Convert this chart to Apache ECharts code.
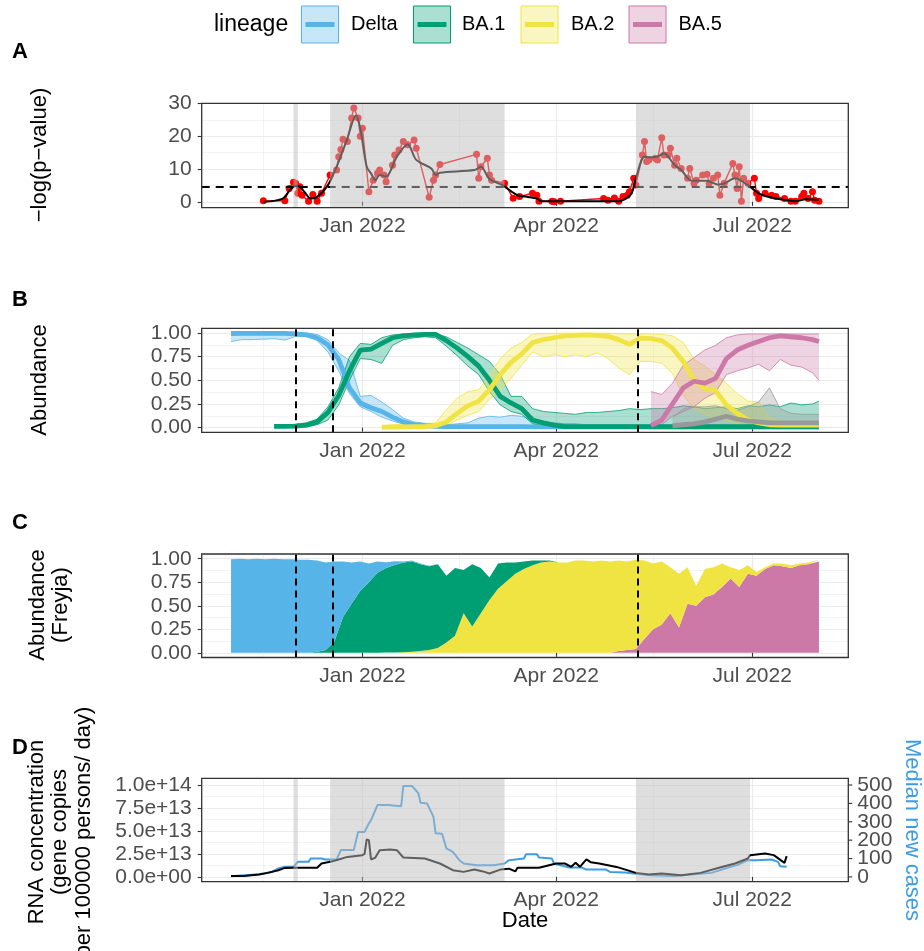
<!DOCTYPE html>
<html><head><meta charset="utf-8">
<script src="https://cdn.jsdelivr.net/npm/echarts@6/dist/echarts.min.js"></script>
<style>html,body{margin:0;padding:0;background:#fff}#c{width:924px;height:951px}</style>
</head><body><div id="c"></div>
<script>
// ---------------- DATA ----------------
// x axis ticks
const xMajorDates = ['2022-01-01','2022-04-01','2022-07-01'];
const xMajorLabels = ['Jan 2022','Apr 2022','Jul 2022'];
const xMinorDates = ['2021-11-16','2022-02-15','2022-05-16'];

// shaded periods (panels A and D) and dashed lines (panels B and C)
const shadeStarts = ['2021-11-30','2021-12-17','2022-05-08'];
const shadeEnds   = ['2021-12-02','2022-03-08','2022-06-30'];
const vLineDates = ['2021-12-01','2021-12-18','2022-05-09'];
const pThreshold = 4.6;

// Panel A: -log(p-value)
const pvalDates = [
'2021-11-16','2021-11-26','2021-11-28','2021-11-30','2021-12-01','2021-12-02','2021-12-03','2021-12-04','2021-12-07','2021-12-09',
'2021-12-11','2021-12-13','2021-12-17','2021-12-20','2021-12-21','2021-12-22','2021-12-23','2021-12-25','2021-12-27','2021-12-28',
'2021-12-30','2021-12-31','2022-01-01','2022-01-04','2022-01-06','2022-01-08','2022-01-09','2022-01-11','2022-01-12','2022-01-15',
'2022-01-16','2022-01-18','2022-01-20','2022-01-22','2022-01-25','2022-01-26','2022-02-01','2022-02-03','2022-02-04','2022-02-06',
'2022-02-23','2022-02-24','2022-02-25','2022-02-28','2022-03-01','2022-03-02','2022-03-08','2022-03-12','2022-03-15','2022-03-21',
'2022-03-23','2022-03-24','2022-03-30','2022-03-31','2022-04-03','2022-04-23','2022-04-25','2022-04-28','2022-04-30','2022-05-02',
'2022-05-04','2022-05-05','2022-05-07','2022-05-08','2022-05-11','2022-05-12','2022-05-13','2022-05-14','2022-05-17','2022-05-18',
'2022-05-20','2022-05-21','2022-05-23','2022-05-24','2022-05-26','2022-05-27','2022-05-29','2022-06-01','2022-06-02','2022-06-04',
'2022-06-05','2022-06-08','2022-06-10','2022-06-11','2022-06-13','2022-06-15','2022-06-16','2022-06-18','2022-06-22','2022-06-23',
'2022-06-24','2022-06-25','2022-06-26','2022-06-27','2022-06-29','2022-07-02','2022-07-03','2022-07-04','2022-07-07','2022-07-10',
'2022-07-12','2022-07-16','2022-07-19','2022-07-21','2022-07-24','2022-07-25','2022-07-27','2022-07-29','2022-07-30','2022-08-01'];
const pvalValues = [
0.3,0.3,4.1,6.0,5.7,2.6,4.6,2.0,0.2,2.2,
0.2,2.6,8.2,9.7,13.8,16.0,19.1,18.4,25.6,28.7,
25.6,20.0,22.5,3.1,6.6,8.7,9.7,8.2,6.1,11.2,
14.3,15.8,18.4,17.4,18.9,16.4,1.4,6.6,8.2,11.4,
14.5,7.2,10.7,13.3,8.2,6.6,5.7,1.1,1.6,2.6,
2.0,0.2,0.2,0.0,0.2,1.0,0.5,1.2,0.2,1.6,
2.0,3.1,7.2,5.1,14.3,18.4,12.3,12.8,13.3,12.8,
19.6,14.3,14.3,16.4,11.2,13.3,10.2,7.2,10.2,5.7,
6.6,8.2,8.4,5.7,7.2,8.2,2.0,5.7,11.7,8.2,
4.1,10.7,0.2,7.2,5.7,7.2,2.6,1.0,2.6,2.0,
1.6,1.0,0.2,0.2,1.6,2.6,1.0,3.1,0.5,0.2];
const smoothDates = [
'2021-11-16','2021-11-25','2021-11-29','2021-12-02','2021-12-05','2021-12-08','2021-12-11','2021-12-16','2021-12-21','2021-12-25',
'2021-12-29','2021-12-31','2022-01-03','2022-01-05','2022-01-07','2022-01-09','2022-01-12','2022-01-17','2022-01-22','2022-01-26',
'2022-02-02','2022-02-04','2022-02-06','2022-02-22','2022-02-25','2022-03-01','2022-03-07','2022-03-14','2022-03-19','2022-03-23',
'2022-03-25','2022-04-12','2022-04-30','2022-05-03','2022-05-06','2022-05-08','2022-05-12','2022-05-15','2022-05-18','2022-05-21',
'2022-05-23','2022-05-26','2022-05-29','2022-06-03','2022-06-10','2022-06-15','2022-06-18','2022-06-23','2022-06-29','2022-07-04',
'2022-07-07','2022-07-14','2022-07-21','2022-07-26','2022-08-01'];
const smoothValues = [
0,1.0,4.1,4.9,3.1,1.0,1.5,5.1,12.3,19.4,
26.4,22.5,10.7,8.7,6.6,8.2,7.7,13.8,17.6,12.8,
10.2,8.2,8.9,9.7,10.7,7.0,5.1,2.0,1.5,1.0,
0.2,0.2,0.2,0.8,2.6,7.2,13.8,13.6,13.8,14.8,
13.8,11.2,9.7,6.4,6.4,5.3,5.6,7.2,5.1,2.6,
1.8,0.8,0.2,0.8,0.6];

// Panel B: abundance estimates with intervals (5-day grid)
const abDates = [
'2021-11-01','2021-11-06','2021-11-11','2021-11-16','2021-11-21','2021-11-26','2021-12-01','2021-12-06','2021-12-11','2021-12-16',
'2021-12-21','2021-12-26','2021-12-31','2022-01-05','2022-01-10','2022-01-15','2022-01-20','2022-01-25','2022-01-30','2022-02-04',
'2022-02-09','2022-02-14','2022-02-19','2022-02-24','2022-03-01','2022-03-06','2022-03-11','2022-03-16','2022-03-21','2022-03-26',
'2022-03-31','2022-04-05','2022-04-10','2022-04-15','2022-04-20','2022-04-25','2022-04-30','2022-05-05','2022-05-10','2022-05-15',
'2022-05-20','2022-05-25','2022-05-30','2022-06-04','2022-06-09','2022-06-14','2022-06-19','2022-06-24','2022-06-29','2022-07-04',
'2022-07-09','2022-07-14','2022-07-19','2022-07-24','2022-07-29','2022-08-01'];
const N=null;
const deltaMid = [
0.995,0.996,0.996,0.997,0.997,0.996,0.99,0.98,0.95,0.875,
0.72,0.42,0.26,0.21,0.17,0.11,0.06,0.03,0.02,0.012,
0.01,0.01,0.01,0.01,0.01,0.01,0.01,0.01,0.008,0.008,
0.008,0.008,0.008,0.008,0.008,0.008,0.008,0.007,0.007,0.006,
0.006,0.006,0.006,0.005,0.005,0.005,0.005,0.005,0.005,0.005,
0.005,0.005,0.005,0.005,0.005,0.005];
const deltaLo = [
0.91,0.93,0.93,0.935,0.94,0.925,0.965,0.965,0.92,0.8,
0.6,0.36,0.22,0.17,0.11,0.07,0.035,0.015,0.008,0.003,
0,0,0,0,0,0,0,0,0,0,
0,0,0,0,0,0,0,0,0,0,
0,0,0,0,0,0,0,0,0,0,
0,0,0,0,0,0];
const deltaHi = [
1,1,1,1,1,1,1,1,0.985,0.93,
0.79,0.71,0.33,0.34,0.27,0.19,0.1,0.06,0.045,0.035,
0.03,0.04,0.05,0.1,0.12,0.11,0.13,0.12,0.08,0.06,
0.05,0.04,0.04,0.03,0.03,0.03,0.03,0.025,0.02,0.02,
0.02,0.02,0.02,0.02,0.02,0.02,0.02,0.02,0.02,0.02,
0.02,0.02,0.02,0.02,0.02,0.02];
const ba1Mid = [
N,N,N,N,0.012,0.012,0.015,0.025,0.06,0.16,
0.34,0.6,0.82,0.83,0.89,0.95,0.97,0.98,0.985,0.985,
0.92,0.84,0.75,0.65,0.5,0.33,0.26,0.2,0.08,0.05,
0.025,0.01,0.01,0.01,0.01,0.01,0.01,0.01,0.01,0.01,
0.01,0.01,0.01,0.01,0.01,0.01,0.01,0.01,0.01,0.01,
0.01,0.01,0.01,0.01,0.01,0.01];
const ba1Lo = [
N,N,N,N,0,0,0.003,0.008,0.03,0.08,
0.24,0.5,0.73,0.72,0.68,0.87,0.93,0.95,0.96,0.95,
0.86,0.76,0.65,0.56,0.38,0.24,0.17,0.14,0.04,0.02,
0.01,0,0,0,0,0,0,0,0,0,
0,0,0,0,0,0,0,0,0,0,
0,0,0,0,0,0];
const ba1Hi = [
N,N,N,N,0.03,0.03,0.035,0.05,0.09,0.22,
0.42,0.75,0.89,0.88,0.95,0.98,0.99,0.995,0.995,0.99,
0.96,0.9,0.84,0.77,0.7,0.56,0.33,0.33,0.2,0.17,
0.16,0.15,0.14,0.16,0.16,0.17,0.18,0.2,0.19,0.2,
0.2,0.21,0.23,0.22,0.2,0.21,0.22,0.2,0.23,0.22,
0.24,0.22,0.26,0.24,0.25,0.28];
const ba2Mid = [
N,N,N,N,N,N,N,N,N,N,
N,N,N,N,0.005,0.005,0.006,0.01,0.01,0.02,
0.06,0.15,0.23,0.28,0.4,0.56,0.69,0.78,0.9,0.93,
0.95,0.97,0.975,0.98,0.975,0.965,0.93,0.88,0.945,0.94,
0.92,0.84,0.70,0.5,0.415,0.39,0.24,0.15,0.08,0.05,
0.03,0.025,0.025,0.025,0.025,0.025];
const ba2Lo = [
N,N,N,N,N,N,N,N,N,N,
N,N,N,N,0,0,0,0.002,0.003,0.005,
0.02,0.08,0.13,0.17,0.3,0.4,0.52,0.66,0.8,0.75,
0.77,0.75,0.77,0.75,0.79,0.73,0.63,0.56,0.70,0.70,
0.68,0.57,0.34,0.2,0.14,0.1,0.08,0.04,0.02,0.01,
0.01,0.01,0.01,0.01,0.01,0.01];
const ba2Hi = [
N,N,N,N,N,N,N,N,N,N,
N,N,N,N,0.02,0.03,0.035,0.04,0.04,0.05,
0.19,0.31,0.38,0.4,0.55,0.73,0.84,0.9,0.99,0.995,
0.997,0.998,0.998,0.998,0.998,0.998,0.995,0.99,0.99,0.99,
0.985,0.97,0.9,0.72,0.65,0.56,0.47,0.36,0.28,0.27,
0.1,0.07,0.06,0.05,0.05,0.05];
const ba5Mid = [
N,N,N,N,N,N,N,N,N,N,
N,N,N,N,N,N,N,N,N,N,
N,N,N,N,N,N,N,N,N,N,
N,N,N,N,N,N,N,N,N,0.02,
0.08,0.25,0.42,0.49,0.47,0.52,0.73,0.82,0.87,0.91,
0.95,0.97,0.96,0.95,0.93,0.91];
const ba5Lo = [
N,N,N,N,N,N,N,N,N,N,
N,N,N,N,N,N,N,N,N,N,
N,N,N,N,N,N,N,N,N,N,
N,N,N,N,N,N,N,N,N,0.0,
0.03,0.12,0.17,0.22,0.31,0.37,0.56,0.6,0.63,0.67,
0.6,0.72,0.66,0.64,0.58,0.5];
const ba5Hi = [
N,N,N,N,N,N,N,N,N,N,
N,N,N,N,N,N,N,N,N,N,
N,N,N,N,N,N,N,N,N,N,
N,N,N,N,N,N,N,N,N,0.38,
0.35,0.47,0.66,0.74,0.82,0.87,0.95,0.98,0.99,0.99,
0.99,0.99,0.99,0.99,0.99,0.99];
const otherMid = [
N,N,N,N,N,N,N,N,N,N,
N,N,N,N,N,N,N,N,N,N,
N,N,N,N,N,N,N,N,N,N,
N,N,N,N,N,N,N,N,N,N,
N,0.02,0.03,0.04,0.06,0.09,0.12,0.09,0.07,0.06,
0.05,0.05,0.05,0.05,0.05,0.05];
const otherLo = [
N,N,N,N,N,N,N,N,N,N,
N,N,N,N,N,N,N,N,N,N,
N,N,N,N,N,N,N,N,N,N,
N,N,N,N,N,N,N,N,N,N,
N,0.0,0.01,0.01,0.01,0.01,0.01,0.01,0.01,0.01,
0.01,0.01,0.01,0.01,0.01,0.01];
const otherHi = [
N,N,N,N,N,N,N,N,N,N,
N,N,N,N,N,N,N,N,N,N,
N,N,N,N,N,N,N,N,N,N,
N,N,N,N,N,N,N,N,N,N,
N,0.1,0.2,0.22,0.22,0.23,0.2,0.18,0.22,0.27,
0.42,0.2,0.15,0.14,0.14,0.14];

// Panel C: Freyja abundances (stacked)
const frDates = [
'2021-11-01','2021-11-05','2021-11-09','2021-11-13','2021-11-17','2021-11-21','2021-11-25','2021-11-29','2021-12-03','2021-12-07',
'2021-12-11','2021-12-15','2021-12-19','2021-12-23','2021-12-27','2021-12-31','2022-01-04','2022-01-08','2022-01-12','2022-01-16',
'2022-01-20','2022-01-24','2022-01-28','2022-02-01','2022-02-05','2022-02-09','2022-02-13','2022-02-17','2022-02-21','2022-02-25',
'2022-03-01','2022-03-05','2022-03-09','2022-03-13','2022-03-17','2022-03-21','2022-03-25','2022-03-29','2022-04-02','2022-04-06',
'2022-04-10','2022-04-14','2022-04-18','2022-04-22','2022-04-26','2022-04-30','2022-05-04','2022-05-08','2022-05-12','2022-05-16',
'2022-05-20','2022-05-24','2022-05-28','2022-06-01','2022-06-05','2022-06-09','2022-06-13','2022-06-17','2022-06-21','2022-06-25',
'2022-06-29','2022-07-03','2022-07-07','2022-07-11','2022-07-15','2022-07-19','2022-07-23','2022-07-27','2022-08-01'];
const frDelta = [
0.995,1.0,0.995,1.0,0.995,1.0,0.995,0.995,0.99,0.99,
0.97,0.93,0.85,0.59,0.44,0.31,0.2,0.12,0.06,0.04,
0.01,0.01,0.01,0.005,0.005,0,0,0,0,0,
0,0,0,0,0,0,0,0,0,0,
0,0,0,0,0,0,0,0,0,0,
0,0,0,0,0,0,0,0,0,0,
0,0,0,0,0,0,0,0,0];
const frBA1 = [
0,0,0,0,0,0,0,0,0,0,
0.01,0.03,0.12,0.38,0.52,0.66,0.75,0.85,0.9,0.93,
0.955,0.96,0.92,0.89,0.89,0.71,0.72,0.46,0.66,0.48,
0.24,0.27,0.2,0.12,0.08,0.05,0.02,0.01,0,0,
0,0,0,0,0,0,0,0,0,0,
0,0,0,0,0,0,0,0,0,0,
0,0,0,0,0,0,0,0,0];
const frBA2 = [
0,0,0,0,0,0,0,0,0,0,
0,0,0,0,0,0,0,0,0.002,0.003,
0.005,0.01,0.02,0.03,0.05,0.11,0.18,0.42,0.28,0.42,
0.56,0.68,0.76,0.84,0.89,0.93,0.96,0.97,0.96,0.96,
0.98,0.98,0.97,0.98,0.97,0.96,0.94,0.95,0.83,0.70,
0.67,0.49,0.57,0.39,0.21,0.30,0.29,0.25,0.12,0.18,
0.09,0.04,0.02,0.02,0.03,0.03,0.02,0.02,0.02];
const frBA5 = [
0,0,0,0,0,0,0,0,0,0,
0,0,0,0,0,0,0,0,0,0,
0,0,0,0,0,0,0,0,0,0,
0,0,0,0,0,0,0,0,0,0,
0,0,0,0,0,0.02,0.03,0.04,0.15,0.25,
0.3,0.42,0.27,0.52,0.5,0.59,0.62,0.7,0.79,0.7,
0.84,0.82,0.89,0.93,0.92,0.9,0.93,0.94,0.97];

// Panel D: RNA concentration (units of 1e13) and median new cases
const rnaDates = [
'2021-11-01','2021-11-07','2021-11-14','2021-11-18','2021-11-23','2021-11-26','2021-11-30','2021-12-11','2021-12-13','2021-12-17',
'2021-12-21','2021-12-25','2022-01-01','2022-01-02','2022-01-03','2022-01-04','2022-01-05','2022-01-07','2022-01-09','2022-01-14',
'2022-01-17','2022-01-20','2022-01-30','2022-02-06','2022-02-12','2022-02-17','2022-02-22','2022-02-26','2022-03-01','2022-03-06',
'2022-03-10','2022-03-13','2022-03-14','2022-03-24','2022-04-01','2022-04-05','2022-04-08','2022-04-10','2022-04-12','2022-04-15',
'2022-04-17','2022-04-21','2022-04-29','2022-05-08','2022-05-14','2022-05-20','2022-05-29','2022-06-07','2022-06-16','2022-06-23',
'2022-06-29','2022-06-30','2022-07-07','2022-07-11','2022-07-16','2022-07-17'];
const rnaE13 = [
0.1,0.1,0.26,0.44,0.73,0.98,1.0,1.0,1.46,1.64,
1.9,2.18,2.37,2.5,4.08,4.0,1.9,2.1,2.91,2.98,
2.91,2.11,2.0,1.46,0.73,0.55,0.8,0.6,0.37,0.8,
0.9,0.6,1.0,1.0,1.46,1.46,1.1,1.55,1.1,1.9,
1.6,1.46,1.09,0.44,0.26,0.37,0.18,0.44,1.02,1.46,
2.0,2.37,2.55,2.37,1.53,2.26];
const caseDates = [
'2021-11-01','2021-11-14','2021-11-20','2021-11-23','2021-11-26','2021-11-30','2021-12-02','2021-12-07','2021-12-08','2021-12-13',
'2021-12-15','2021-12-20','2021-12-22','2021-12-28','2021-12-30','2022-01-02','2022-01-04','2022-01-05','2022-01-08','2022-01-13',
'2022-01-19','2022-01-20','2022-01-24','2022-01-27','2022-01-28','2022-01-31','2022-02-03','2022-02-04','2022-02-07','2022-02-09',
'2022-02-12','2022-02-15','2022-02-17','2022-02-23','2022-03-03','2022-03-08','2022-03-10','2022-03-17','2022-03-18','2022-03-23',
'2022-03-24','2022-03-30','2022-03-31','2022-04-07','2022-04-13','2022-04-15','2022-04-24','2022-04-26','2022-05-03','2022-05-07',
'2022-05-15','2022-05-26','2022-06-04','2022-06-12','2022-06-15','2022-06-21','2022-06-24','2022-06-29','2022-07-03','2022-07-10',
'2022-07-13','2022-07-14','2022-07-17'];
const caseValues = [
4,14,27,46,55,55,82,82,100,100,
95,95,146,146,245,245,291,309,391,391,
385,495,495,455,404,400,327,237,235,155,
136,91,73,64,64,73,91,100,124,124,
106,100,73,51,51,40,40,27,24,18,
9,5,14,22,33,55,64,91,91,95,
82,58,55];

// axis ticks and labels
const yTicksA = [0,10,20,30], yLabelsA = ['0','10','20','30'], yMinorA = [5,15,25];
const yTicksAb = [0,0.25,0.5,0.75,1], yLabelsAb = ['0.00','0.25','0.50','0.75','1.00'], yMinorAb = [0.125,0.375,0.625,0.875];
const yTicksRna = [0,2.5,5,7.5,10], yLabelsRna = ['0.0e+00','2.5e+13','5.0e+13','7.5e+13','1.0e+14'], yMinorRna = [1.25,3.75,6.25,8.75];
const yTicksCases = [0,100,200,300,400,500], yLabelsCases = ['0','100','200','300','400','500'];

const lineageNames = ['Delta','BA.1','BA.2','BA.5'];
const lineageColors = ['#56B4E9','#009E73','#F0E442','#CC79A7'];
const otherColor = '#999999';

// ---------------- HELPERS ----------------
const FAM = "'Liberation Sans', Arial, Helvetica, sans-serif";
const TICK_FS = 21, TITLE_FS = 22;
function ts(s){const p=s.split('-').map(Number);return Date.UTC(p[0],p[1]-1,p[2]);}
function pairs(d,v){const o=[];for(let i=0;i<d.length;i++){if(v[i]!=null)o.push([ts(d[i]),v[i]]);}return o;}
function pairsVT(d,v){return d.map((s,i)=>[v[i],ts(s)]);}
function rgba(hex,a){const n=parseInt(hex.slice(1),16);return 'rgba('+((n>>16)&255)+','+((n>>8)&255)+','+(n&255)+','+a+')';}
function labelFor(v,vals,labs){let b=0,bd=Infinity;for(let i=0;i<vals.length;i++){const d=Math.abs(vals[i]-v);if(d<bd){bd=d;b=i;}}return labs[b];}

const X_MIN = Date.UTC(2021,9,18,9), X_MAX = Date.UTC(2022,7,14,15);
const xMajorTs = xMajorDates.map(ts), xMinorTs = xMinorDates.map(ts);

const GRID_LEFT=201.7, GRID_RIGHT=75.7, CHART_W=924;
const grids = [
  {left:GRID_LEFT,right:GRID_RIGHT,top:103.3,height:104.4},
  {left:GRID_LEFT,right:GRID_RIGHT,top:328.3,height:104},
  {left:GRID_LEFT,right:GRID_RIGHT,top:554,height:103.5},
  {left:GRID_LEFT,right:GRID_RIGHT,top:778.3,height:103.4}
].map(g=>Object.assign({show:true,borderColor:'#333333',borderWidth:1.3,backgroundColor:'transparent',z:20},g));

const tickStyle={show:true,length:4,lineStyle:{color:'#333333',width:1.1}};
function labStyle(vals,labs,margin){return {show:true,customValues:vals,formatter:(v)=>labelFor(v,vals,labs),
  color:'#4D4D4D',fontSize:TICK_FS,fontFamily:FAM,margin:margin,showMinLabel:true,showMaxLabel:true,hideOverlap:false};}

function xMajor(g){return {type:'value',gridIndex:g,min:X_MIN,max:X_MAX,scale:true,
  axisLine:{show:false},
  axisTick:Object.assign({customValues:xMajorTs},tickStyle),
  axisLabel:labStyle(xMajorTs,xMajorLabels,8),
  splitLine:{show:true,lineStyle:{color:'#EBEBEB',width:1.2}}};}
function xMinor(g){return {type:'value',gridIndex:g,min:X_MIN,max:X_MAX,scale:true,position:'top',
  axisLine:{show:false},axisTick:{show:false,customValues:xMinorTs},axisLabel:{show:false,customValues:xMinorTs},
  splitLine:{show:true,lineStyle:{color:'#EBEBEB',width:0.6}}};}
function yMajor(g,min,max,vals,labs){return {type:'value',gridIndex:g,min:min,max:max,position:'left',
  axisLine:{show:false},
  axisTick:Object.assign({customValues:vals},tickStyle),
  axisLabel:labStyle(vals,labs,10),
  splitLine:{show:true,lineStyle:{color:'#EBEBEB',width:1.2}}};}
function yMinor(g,min,max,vals){return {type:'value',gridIndex:g,min:min,max:max,position:'left',
  axisLine:{show:false},axisTick:{show:false,customValues:vals},axisLabel:{show:false,customValues:vals},
  splitLine:{show:true,lineStyle:{color:'#EBEBEB',width:0.6}}};}

const A_MIN=-1.8, A_MAX=30.1, AB_MIN=-0.05, AB_MAX=1.05, R_MIN=-0.52, R_MAX=10.73;
const CASES_PER_UNIT = 50; // secondary axis: 500 cases <-> 1e14

const xAxes=[xMajor(0),xMinor(0),xMajor(1),xMinor(1),xMajor(2),xMinor(2),xMajor(3),xMinor(3)];
const yAxes=[
  yMajor(0,A_MIN,A_MAX,yTicksA,yLabelsA), yMinor(0,A_MIN,A_MAX,yMinorA),
  yMajor(1,AB_MIN,AB_MAX,yTicksAb,yLabelsAb), yMinor(1,AB_MIN,AB_MAX,yMinorAb),
  yMajor(2,AB_MIN,AB_MAX,yTicksAb,yLabelsAb), yMinor(2,AB_MIN,AB_MAX,yMinorAb),
  yMajor(3,R_MIN,R_MAX,yTicksRna,yLabelsRna), yMinor(3,R_MIN,R_MAX,yMinorRna),
  {type:'value',gridIndex:3,min:R_MIN*CASES_PER_UNIT,max:R_MAX*CASES_PER_UNIT,position:'right',
   axisLine:{show:false},axisTick:{show:false},axisLabel:{show:false},splitLine:{show:false}}
];

function shade(xi,yi){
  const data=shadeStarts.map((s,i)=>[ts(s),ts(shadeEnds[i]),0]);
  return {type:'custom',xAxisIndex:xi,yAxisIndex:yi,z:10,silent:true,data:data,encode:{x:[0,1],y:2},
    renderItem:function(params,api){
      const cs=params.coordSys;
      const x0=api.coord([api.value(0),api.value(2)])[0];
      const x1=api.coord([api.value(1),api.value(2)])[0];
      return {type:'rect',shape:{x:x0,y:cs.y+0.8,width:x1-x0,height:cs.height-1.6},style:{fill:'rgba(190,190,190,0.5)'}};
    }};
}
function ribbon(dates,lo,hi,color,xi,yi){
  const d=[];
  for(let i=0;i<dates.length;i++){if(lo[i]!=null&&hi[i]!=null)d.push([ts(dates[i]),lo[i],hi[i]]);}
  return {type:'custom',xAxisIndex:xi,yAxisIndex:yi,z:2,silent:true,clip:true,data:d,encode:{x:0,y:[1,2]},
    renderItem:function(params,api){
      if(params.dataIndex!==0)return;
      const up=d.map(p=>api.coord([p[0],p[2]]));
      const dn=d.map(p=>api.coord([p[0],p[1]]));
      return {type:'group',children:[
        {type:'polygon',shape:{points:up.concat(dn.slice().reverse())},style:{fill:rgba(color,0.33)}},
        {type:'polyline',shape:{points:up},style:{stroke:color,lineWidth:0.8,fill:null}},
        {type:'polyline',shape:{points:dn},style:{stroke:color,lineWidth:0.8,fill:null}}
      ]};
    }};
}
function vDashed(){
  return {silent:true,symbol:['none','none'],label:{show:false},
    lineStyle:{color:'#000000',type:[7,5],width:2},
    data:vLineDates.map(d=>({xAxis:ts(d)}))};
}

// ---------------- SERIES ----------------
const series=[];
// A
series.push({type:'line',xAxisIndex:0,yAxisIndex:0,data:pairs(pvalDates,pvalValues),
  symbol:'circle',symbolSize:7,showSymbol:true,itemStyle:{color:'#FF0000'},
  lineStyle:{color:'#FF0000',width:1.4},z:3,silent:true,
  markLine:{silent:true,symbol:['none','none'],label:{show:false},
    lineStyle:{color:'#000000',type:[8,6],width:1.8},data:[{yAxis:pThreshold}]}});
series.push({type:'line',xAxisIndex:0,yAxisIndex:0,data:pairs(smoothDates,smoothValues),
  symbol:'none',smooth:0.3,lineStyle:{color:'#000000',width:2},z:4,silent:true});
series.push(shade(0,0));

// B
const bSets=[
  [deltaMid,deltaLo,deltaHi,lineageColors[0]],
  [ba1Mid,ba1Lo,ba1Hi,lineageColors[1]],
  [ba2Mid,ba2Lo,ba2Hi,lineageColors[2]],
  [ba5Mid,ba5Lo,ba5Hi,lineageColors[3]],
  [otherMid,otherLo,otherHi,otherColor]
];
bSets.forEach(s=>series.push(ribbon(abDates,s[1],s[2],s[3],2,2)));
bSets.forEach((s,i)=>{
  const ser={type:'line',xAxisIndex:2,yAxisIndex:2,data:pairs(abDates,s[0]),symbol:'none',
    lineStyle:{color:s[3],width:4.8},z:3,silent:true};
  if(i===0)ser.markLine=vDashed();
  series.push(ser);
});

// C (stacked on y, bottom to top: BA.5, BA.2, BA.1, Delta)
[[frBA5,lineageColors[3]],[frBA2,lineageColors[2]],[frBA1,lineageColors[1]],[frDelta,lineageColors[0]]].forEach((s,i,arr)=>{
  const ser={type:'line',xAxisIndex:4,yAxisIndex:4,stack:'freyja',data:pairsVT(frDates,s[0]),
    dimensions:['abundance','date'],encode:{x:1,y:0},symbol:'none',
    lineStyle:{width:0},areaStyle:{color:s[1],opacity:1},z:2,silent:true};
  if(i===arr.length-1)ser.markLine=vDashed();
  series.push(ser);
});

// D
series.push({type:'line',xAxisIndex:6,yAxisIndex:8,data:pairs(caseDates,caseValues),symbol:'none',
  lineStyle:{color:'#3D9DE3',width:2},z:3,silent:true});
series.push({type:'line',xAxisIndex:6,yAxisIndex:6,data:pairs(rnaDates,rnaE13),symbol:'none',
  lineStyle:{color:'#000000',width:2},z:4,silent:true});
series.push(shade(6,6));

// ---------------- GRAPHICS (titles, tags, legend) ----------------
function txt(x,y,text,opt){
  opt=opt||{};
  return {type:'text',x:x,y:y,rotation:opt.rot||0,silent:true,z:50,
    style:{text:text,fontSize:opt.fs||TITLE_FS,fontFamily:FAM,fontWeight:opt.fw||'normal',
      fill:opt.color||'#000000',align:opt.align||'center',verticalAlign:'middle',lineHeight:opt.lh||25}};
}
const R=Math.PI/2;
const gfx=[
  txt(20,52,'A',{fw:'bold'}), txt(20,300,'B',{fw:'bold'}), txt(20,523,'C',{fw:'bold'}), txt(20,748,'D',{fw:'bold'}),
  txt(40,155,'\u2212log(p\u2212value)',{rot:R}),
  txt(40,380,'Abundance',{rot:R}),
  txt(49.5,605,'Abundance\n(Freyja)',{rot:R,lh:23}),
  txt(60,832,'RNA concentration\n(gene copies\nper 100000 persons/ day)',{rot:R,lh:23.5}),
  txt(912,830,'Median new cases',{rot:-R,color:'#3D9DE3'}),
  txt(525,921,'Date'),
  txt(214,24.5,'lineage',{align:'left',fs:23})
];
const boxX=[301.5,413.5,521,629], labX=[351,462,571,678.5];
lineageNames.forEach((n,i)=>{
  gfx.push({type:'rect',silent:true,z:50,shape:{x:boxX[i],y:6,width:37,height:37},
    style:{fill:rgba(lineageColors[i],0.33),stroke:lineageColors[i],lineWidth:1}});
  gfx.push({type:'line',silent:true,z:51,shape:{x1:boxX[i]+4,y1:24.5,x2:boxX[i]+33,y2:24.5},
    style:{stroke:lineageColors[i],lineWidth:5}});
  gfx.push(txt(labX[i],24.5,n,{align:'left',fs:20}));
});

const chart=echarts.init(document.getElementById('c'),null,{renderer:'canvas'});
chart.setOption({
  animation:false,
  backgroundColor:'#ffffff',
  grid:grids,
  xAxis:xAxes,
  yAxis:yAxes,
  series:series
});
// secondary (right) axis of panel D: ticks and labels placed through the axis scale
const rightX = CHART_W - GRID_RIGHT;
yTicksCases.forEach((v,i)=>{
  const py = chart.convertToPixel({yAxisIndex:8}, v);
  gfx.push({type:'line',silent:true,z:50,shape:{x1:rightX,y1:py,x2:rightX+4,y2:py},style:{stroke:'#333333',lineWidth:1.1}});
  gfx.push({type:'text',x:rightX+9,y:py,silent:true,z:50,
    style:{text:yLabelsCases[i],fontSize:TICK_FS,fontFamily:FAM,fill:'#4D4D4D',align:'left',verticalAlign:'middle'}});
});
chart.setOption({graphic:{elements:gfx}});
</script></body></html>
